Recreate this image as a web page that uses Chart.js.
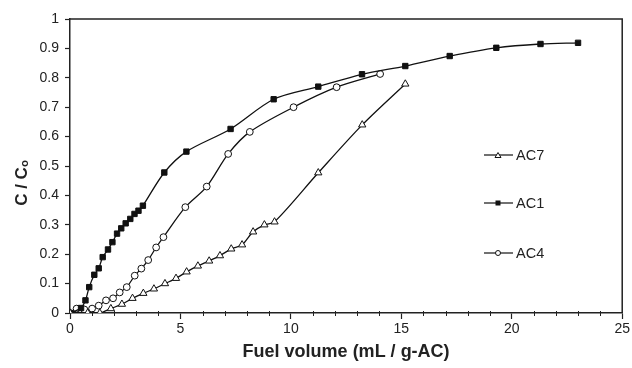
<!DOCTYPE html>
<html>
<head>
<meta charset="utf-8">
<script src="https://cdn.jsdelivr.net/npm/chart.js@4.4.1/dist/chart.umd.min.js"></script>
<style>
html,body{margin:0;padding:0;background:#fff;}
#wrap{position:relative;width:632px;height:368px;}
#legend{position:absolute;left:484px;top:0;font-family:"Liberation Sans",Arial,sans-serif;font-size:14.5px;color:#222;}
.li{position:absolute;left:0;display:flex;align-items:center;white-space:nowrap;}
.li svg{display:block;margin-right:3px;}
</style>
</head>
<body>
<div id="wrap">
<canvas id="c" width="632" height="368"></canvas>
<div id="legend"></div>
</div>
<script>
// Data
const seriesNames = ['AC7', 'AC1', 'AC4'];

const ac7X = [0, 0.8, 1.35, 1.85, 2.35, 2.83, 3.32, 3.8, 4.3, 4.8, 5.28, 5.79, 6.3, 6.79, 7.3, 7.79, 8.29, 8.8, 9.26, 11.24, 13.23, 15.18];
const ac7Y = [0, 0, 0, 0.015, 0.03, 0.05, 0.067, 0.082, 0.1, 0.118, 0.14, 0.16, 0.177, 0.195, 0.218, 0.232, 0.276, 0.3, 0.31, 0.477, 0.64, 0.779];

const ac1X = [0, 0.5, 0.7, 0.87, 1.1, 1.3, 1.48, 1.72, 1.92, 2.13, 2.32, 2.52, 2.73, 2.92, 3.1, 3.3, 4.27, 5.27, 7.27, 9.22, 11.24, 13.22, 15.18, 17.19, 19.3, 21.3, 23.0];
const ac1Y = [0, 0.017, 0.043, 0.088, 0.13, 0.152, 0.19, 0.216, 0.241, 0.27, 0.288, 0.305, 0.32, 0.337, 0.348, 0.365, 0.478, 0.549, 0.626, 0.727, 0.77, 0.812, 0.84, 0.874, 0.902, 0.915, 0.919];

const ac4X = [0, 0.3, 0.65, 1.0, 1.3, 1.63, 1.95, 2.25, 2.57, 2.93, 3.23, 3.54, 3.9, 4.23, 5.22, 6.19, 7.16, 8.14, 10.12, 12.07, 14.04];
const ac4Y = [0, 0.015, 0.012, 0.015, 0.025, 0.043, 0.05, 0.07, 0.088, 0.127, 0.151, 0.18, 0.223, 0.258, 0.36, 0.43, 0.541, 0.616, 0.70, 0.768, 0.813];

const xMajorTicks = [0, 5, 10, 15, 20, 25];
const yTicks = [0, 0.1, 0.2, 0.3, 0.4, 0.5, 0.6, 0.7, 0.8, 0.9, 1];

const xTitle = 'Fuel volume (mL / g-AC)';
const yTitle = 'C / Cₒ';

const toPts = (xs, ys) => xs.map((x, i) => ({x: x, y: ys[i]}));

const styles = {
  AC7: {pointStyle: 'triangle', bg: '#fff', r: 4.2},
  AC1: {pointStyle: 'rect', bg: '#111', r: 3.8},
  AC4: {pointStyle: 'circle', bg: '#fff', r: 3.4}
};
const seriesData = {AC7: toPts(ac7X, ac7Y), AC1: toPts(ac1X, ac1Y), AC4: toPts(ac4X, ac4Y)};

const datasets = seriesNames.map(n => ({
  label: n,
  data: seriesData[n],
  borderColor: '#111',
  borderWidth: 1.3,
  backgroundColor: styles[n].bg,
  pointStyle: styles[n].pointStyle,
  pointRadius: styles[n].r,
  pointBorderWidth: 1,
  pointBorderColor: '#111',
  pointBackgroundColor: styles[n].bg,
  tension: 0.3,
  fill: false
}));

const framePlugin = {
  id: 'frame',
  afterDraw(chart) {
    const {ctx, chartArea: a, scales} = chart;
    ctx.save();
    ctx.strokeStyle = '#222';
    ctx.lineWidth = 1.5;
    ctx.beginPath();
    ctx.moveTo(a.left, a.top);
    ctx.lineTo(a.right, a.top);
    ctx.lineTo(a.right, a.bottom);
    ctx.stroke();
    // minor ticks on x axis (every 1 unit)
    ctx.lineWidth = 1;
    ctx.beginPath();
    const xs = scales.x;
    for (let v = xs.min; v <= xs.max; v += 1) {
      if (v % 5 === 0) continue;
      const px = Math.round(xs.getPixelForValue(v)) + 0.5;
      ctx.moveTo(px, a.bottom - 2);
      ctx.lineTo(px, a.bottom + 3);
    }
    ctx.stroke();
    // y axis title, placed like the reference (left of the tick labels)
    ctx.translate(22, 183);
    ctx.rotate(-Math.PI / 2);
    ctx.fillStyle = '#222';
    ctx.font = 'bold 17px "Liberation Sans", Arial, sans-serif';
    ctx.textAlign = 'center';
    ctx.textBaseline = 'middle';
    ctx.fillText(yTitle, 0, 0);
    ctx.restore();
  }
};

const tickFont = {family: '"Liberation Sans", Arial, sans-serif', size: 14};

new Chart(document.getElementById('c'), {
  type: 'line',
  data: {datasets},
  options: {
    responsive: false,
    animation: false,
    layout: {padding: {top: 19, right: 8, left: 0, bottom: 5}},
    plugins: {legend: {display: false}, tooltip: {enabled: false}},
    scales: {
      x: {
        type: 'linear',
        min: 0, max: 25,
        afterBuildTicks: s => { s.ticks = xMajorTicks.map(v => ({value: v})); },
        ticks: {color: '#222', font: tickFont, padding: 2, maxRotation: 0},
        grid: {drawOnChartArea: false, tickLength: 6, color: '#222', tickWidth: 1.2},
        border: {display: true, color: '#222', width: 1.5},
        title: {display: true, text: xTitle, color: '#222',
          font: {family: '"Liberation Sans", Arial, sans-serif', size: 18, weight: 'bold'}, padding: {top: 0, bottom: 0}},
        afterFit: s => { s.height = 50; }
      },
      y: {
        type: 'linear',
        min: 0, max: 1,
        afterBuildTicks: s => { s.ticks = yTicks.map(v => ({value: v})); },
        ticks: {color: '#222', font: tickFont, padding: 6, callback: v => String(Math.round(v * 10) / 10)},
        grid: {drawOnChartArea: false, tickLength: 5, color: '#222', tickWidth: 1.2},
        border: {display: true, color: '#222', width: 1.5},
        title: {display: false},
        afterFit: s => { s.width = 70; }
      }
    }
  },
  plugins: [framePlugin]
});

// HTML legend
const legendTops = [155, 203, 253];
const legend = document.getElementById('legend');
seriesNames.forEach((n, i) => {
  const d = document.createElement('div');
  d.className = 'li';
  d.style.top = (legendTops[i] - 9) + 'px';
  let marker = '';
  if (n === 'AC7') marker = '<polygon points="14,2.5 17,7.5 11,7.5" fill="#fff" stroke="#111" stroke-width="1"/>';
  if (n === 'AC1') marker = '<rect x="11.5" y="2.5" width="5" height="5" fill="#111"/>';
  if (n === 'AC4') marker = '<circle cx="14" cy="5" r="2.5" fill="#fff" stroke="#111" stroke-width="1"/>';
  d.innerHTML = '<svg width="29" height="18" viewBox="0 -4 29 18"><line x1="0" y1="5" x2="29" y2="5" stroke="#111" stroke-width="1.2"/>' + marker + '</svg><span>' + n + '</span>';
  legend.appendChild(d);
});
</script>
</body>
</html>
